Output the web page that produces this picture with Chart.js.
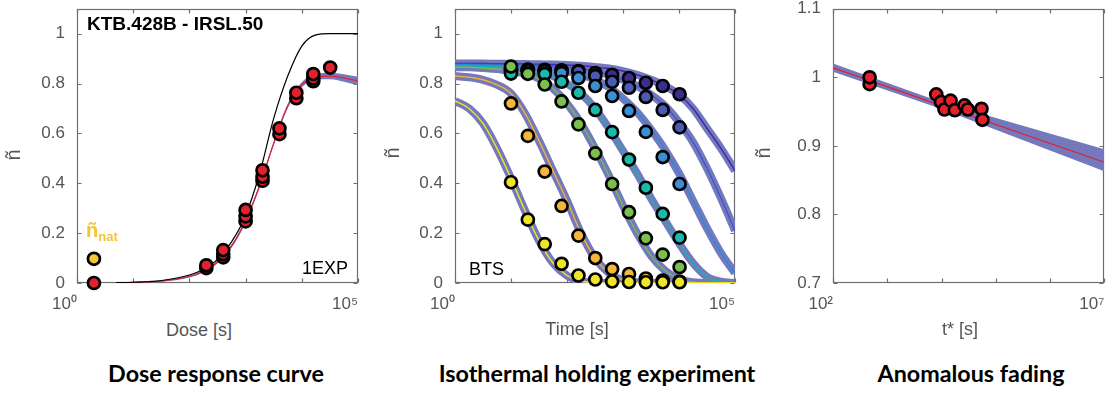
<!DOCTYPE html>
<html><head><meta charset="utf-8">
<script src="https://cdn.jsdelivr.net/npm/chart.js@4.4.1/dist/chart.umd.min.js"></script>
<style>
html,body{margin:0;padding:0;background:#fff}
body{width:1113px;height:396px;overflow:hidden;position:relative;font-family:"Liberation Sans",Arial,sans-serif}
canvas{position:absolute;top:0}
.t{position:absolute;white-space:nowrap;line-height:1}
.ax{color:#555;font-size:18px}
.yl{color:#555;font-size:20px;transform:translate(-50%,-50%) rotate(-90deg)}
.ttl{font-family:Lato,"Open Sans",sans-serif;font-weight:700;font-size:23.3px;color:#000;transform:translateX(-50%)}
</style></head><body>
<canvas id="c1" width="370" height="320" style="left:0"></canvas>
<canvas id="c2" width="380" height="320" style="left:370px"></canvas>
<canvas id="c3" width="363" height="320" style="left:750px"></canvas>

<div class="t" style="left:87px;top:14px;font-weight:700;font-size:19px">KTB.428B - IRSL.50</div>
<div class="t" style="left:302px;top:259px;font-size:18px">1EXP</div>
<div class="t" style="left:86px;top:220px;color:#f5c531;font-weight:700;font-size:20px">ñ<span style="font-size:13px;position:relative;top:4px">nat</span></div>
<div class="t" style="left:469px;top:260px;font-size:18px">BTS</div>

<div class="t yl" style="left:13px;top:155px">ñ</div>
<div class="t yl" style="left:392px;top:153px">ñ</div>
<div class="t yl" style="left:763px;top:153px">ñ</div>

<div class="t ax" style="left:199px;top:321px;transform:translateX(-50%)">Dose [s]</div>
<div class="t ax" style="left:577px;top:320px;transform:translateX(-50%)">Time [s]</div>
<div class="t ax" style="left:960px;top:320px;transform:translateX(-50%)">t* [s]</div>

<div class="t ttl" style="left:216px;top:362px">Dose response curve</div>
<div class="t ttl" style="left:597px;top:362px">Isothermal holding experiment</div>
<div class="t ttl" style="left:971px;top:362px">Anomalous fading</div>

<script>
// ---------- Panel 1: dose response ----------
const doseCurveX = [5,10,32,100,178,316,562,1000,1778,3162,5623,10000,17783,31623,56234,100000];
const curve1EXP  = [0.0015,0.003,0.01,0.032,0.055,0.095,0.165,0.27,0.44,0.66,0.83,0.95,0.995,1,1,1];
const curveFit   = [0.0013,0.0025,0.008,0.026,0.047,0.084,0.148,0.25,0.39,0.56,0.71,0.795,0.826,0.83,0.822,0.81];
const fitUpper   = [0.0023,0.0045,0.011,0.030,0.052,0.090,0.155,0.258,0.398,0.568,0.719,0.805,0.837,0.843,0.837,0.827];
const fitLower   = [0.0003,0.0005,0.005,0.022,0.042,0.078,0.141,0.242,0.382,0.552,0.701,0.785,0.815,0.817,0.807,0.793];
const doseX = [2,200,200,400,400,400,1000,1000,1000,2000,2000,2000,4000,4000,8000,8000,16000,16000,16000,32000];
const doseN = [0,0.06,0.071,0.103,0.116,0.132,0.247,0.267,0.293,0.41,0.426,0.452,0.597,0.62,0.741,0.763,0.809,0.82,0.838,0.864];
const natX = [2];
const natN = [0.097];
const doseTicks = [1,10,100,1000,10000,100000];
const doseTickLabels = ['10\u2070','','','','','10\u2075'];
const nTicks = [0,0.2,0.4,0.6,0.8,1];
const nTickLabels = ['0','0.2','0.4','0.6','0.8','1'];

// ---------- Panel 2: isothermal holding ----------
const holdT = [10,20,40,80,160,320,640,1280,2560,5120,10240];
const holdPurple    = [0.856,0.856,0.855,0.853,0.85,0.842,0.835,0.822,0.803,0.79,0.757];
const holdMidBlue   = [0.855,0.855,0.853,0.851,0.848,0.83,0.807,0.783,0.746,0.694,0.624];
const holdLightBlue = [0.852,0.852,0.85,0.842,0.822,0.79,0.75,0.69,0.606,0.505,0.397];
const holdTeal      = [0.84,0.85,0.838,0.807,0.763,0.694,0.605,0.495,0.382,0.277,0.182];
const holdGreen     = [0.868,0.839,0.796,0.728,0.636,0.52,0.397,0.284,0.179,0.114,0.064];
const holdOrange    = [0.72,0.59,0.447,0.309,0.19,0.10,0.056,0.036,0.018,0.01,0.006];
const holdYellow    = [0.404,0.254,0.156,0.077,0.03,0.014,0.006,0.004,0.003,0.003,0.003];
const holdCurveT = [1,1.78,3.16,5.62,10,17.8,31.6,56.2,100,178,316,562,1000,1780,3160,5620,10000,17800,31600,56200,100000];
const fitPurple    = [0.88,0.88,0.88,0.879,0.879,0.878,0.877,0.876,0.874,0.871,0.866,0.86,0.85,0.835,0.815,0.79,0.755,0.70,0.62,0.54,0.45];
const fitMidBlue   = [0.878,0.878,0.877,0.877,0.876,0.875,0.873,0.87,0.866,0.86,0.85,0.835,0.815,0.79,0.755,0.71,0.645,0.565,0.46,0.34,0.21];
const fitLightBlue = [0.875,0.875,0.874,0.873,0.872,0.87,0.866,0.86,0.85,0.835,0.815,0.785,0.74,0.685,0.615,0.535,0.44,0.33,0.22,0.12,0.04];
const fitTeal      = [0.87,0.87,0.868,0.866,0.862,0.856,0.845,0.83,0.80,0.76,0.70,0.62,0.53,0.44,0.34,0.25,0.16,0.08,0.025,0.005,0];
const fitGreen     = [0.865,0.865,0.862,0.858,0.85,0.84,0.82,0.78,0.72,0.64,0.54,0.43,0.31,0.20,0.11,0.05,0.015,0.003,0,0,0];
const fitOrange    = [0.83,0.825,0.815,0.795,0.76,0.68,0.57,0.45,0.33,0.20,0.10,0.04,0.012,0.003,0,0,0,0,0,0,0];
const fitYellow    = [0.73,0.70,0.64,0.54,0.42,0.29,0.17,0.08,0.03,0.008,0.001,0,0,0,0,0,0,0,0,0,0];
const timeTicks = [1,10,100,1000,10000,100000];
const timeTickLabels = ['10\u2070','','','','','10\u2075'];

// ---------- Panel 3: anomalous fading ----------
const fadeX = [473,473,8000,9750,11350,14700,17600,26600,30500,54500,56800];
const fadeN = [0.99,1.0,0.975,0.964,0.953,0.966,0.952,0.959,0.953,0.954,0.938];
const fadeLineX = [100,10000,10000000];
const fadeFit   = [1.0138,0.9586,0.876];
const fadeUpper = [1.020,0.9636,0.895];
const fadeLower = [1.008,0.9536,0.863];
const fadeTicks = [100,1000,10000,100000,1000000,10000000];
const fadeTickLabels = ['10\u00b2','','','','','10\u2077'];
const fadeNTicks = [0.7,0.8,0.9,1,1.1];
const fadeNTickLabels = ['0.7','0.8','0.9','1','1.1'];

// ---------- styling ----------
const FONT = '"Liberation Sans", Arial, sans-serif';
const AXIS = '#6e6e6e';
const BAND = 'rgb(116,121,190)';
const RED = '#e3212b';

const xy = (xs, ys) => xs.map((x, i) => ({x, y: ys[i]}));

const boxPlugin = {
  id: 'mbox',
  beforeDatasetsDraw(chart) {
    const {ctx, chartArea: a, scales} = chart;
    const x = scales.x, y = scales.y;
    ctx.save();
    ctx.strokeStyle = AXIS; ctx.lineWidth = 1.2;
    const L = Math.round(a.left) + 0.5, R = Math.round(a.right) - 0.5;
    const T = Math.round(a.top) + 0.5, B = Math.round(a.bottom) - 0.5;
    ctx.strokeRect(L, T, R - L, B - T);
    const tl = 4;
    ctx.beginPath();
    x.ticks.forEach(t => { const p = Math.round(x.getPixelForValue(t.value)) + 0.5;
      ctx.moveTo(p, B); ctx.lineTo(p, B - tl); ctx.moveTo(p, T); ctx.lineTo(p, T + tl); });
    y.ticks.forEach(t => { const p = Math.round(y.getPixelForValue(t.value)) + 0.5;
      ctx.moveTo(L, p); ctx.lineTo(L + tl, p); ctx.moveTo(R, p); ctx.lineTo(R - tl, p); });
    ctx.stroke();
    ctx.restore();
  }
};

function options(c) {
  return {
    responsive: false, animation: false, events: [],
    layout: {padding: {top: 3, right: c.padR, left: 0, bottom: 0}},
    plugins: {legend: {display: false}, tooltip: {enabled: false}},
    scales: {
      x: {
        type: 'logarithmic', min: c.xTicks[0], max: c.xTicks[c.xTicks.length - 1],
        afterBuildTicks: s => { s.ticks = c.xTicks.map(v => ({value: v})); },
        afterFit: s => { s.height = 37; s.paddingLeft = 0; s.paddingRight = 0; },
        grid: {display: false, drawTicks: false}, border: {display: false},
        ticks: {autoSkip: false, maxRotation: 0, minRotation: 0, align: 'end', padding: 11,
          color: '#555', font: {family: FONT, size: 17},
          callback: (v, i) => c.xLabels[i]}
      },
      y: {
        type: 'linear', min: c.yMin, max: c.yMax,
        afterBuildTicks: s => { s.ticks = c.yTicks.map(v => ({value: v})); },
        afterFit: s => { s.width = c.yW; s.paddingTop = 0; s.paddingBottom = 0; },
        grid: {display: false, drawTicks: false}, border: {display: false},
        ticks: {autoSkip: false, padding: 12, color: '#555', font: {family: FONT, size: 17},
          callback: (v, i) => c.yLabels[i]}
      }
    }
  };
}

const pts = (data, color, order) => ({data, showLine: false, pointRadius: 6, pointBorderWidth: 2.7,
  pointBackgroundColor: color, pointBorderColor: '#000', clip: false, order});
const curve = (data, color, width, order, extra) => Object.assign({data, borderColor: color, borderWidth: width,
  pointRadius: 0, cubicInterpolationMode: 'monotone', fill: false, clip: 0, order}, extra || {});

// Panel 1
new Chart(document.getElementById('c1'), {
  type: 'line',
  data: {datasets: [
    pts(xy(natX, natN), '#f5c636', 0),
    pts(xy(doseX, doseN), RED, 1),
    curve(xy(doseCurveX, curve1EXP), '#000', 1.2, 2),
    curve(xy(doseCurveX, curveFit), RED, 1.2, 3),
    curve(xy(doseCurveX, fitUpper), 'rgba(0,0,0,0)', 0, 4, {fill: '+1', backgroundColor: BAND}),
    curve(xy(doseCurveX, fitLower), 'rgba(0,0,0,0)', 0, 5)
  ]},
  options: options({padR: 12, yW: 77, xTicks: doseTicks, xLabels: doseTickLabels,
    yMin: 0, yMax: 1.1, yTicks: nTicks, yLabels: nTickLabels}),
  plugins: [boxPlugin]
});

// Panel 2
const holdColors = {purple: '#3d2d8e', mid: '#4a5bb1', light: '#3b8fd4', teal: '#1bb9aa', green: '#7bbf4f', orange: '#f6b53b', yellow: '#eee52a'};
const lineColors = {purple: '#3e26a8', mid: '#3f57c8', light: '#2d8ad8', teal: '#14b5a8', green: '#6fbe55', orange: '#f3b330', yellow: '#f2e61c'};
const holdSets = [
  ['yellow', holdYellow, fitYellow], ['orange', holdOrange, fitOrange], ['green', holdGreen, fitGreen],
  ['teal', holdTeal, fitTeal], ['light', holdLightBlue, fitLightBlue], ['mid', holdMidBlue, fitMidBlue],
  ['purple', holdPurple, fitPurple]
];
const ds2 = [];
holdSets.forEach(([k, p, f], i) => {
  ds2.push(pts(xy(holdT, p), holdColors[k], i));
  ds2.push(curve(xy(holdCurveT, f), lineColors[k], 1.4, 10 + i));
  ds2.push(curve(xy(holdCurveT, f), BAND, 8, 20 + i, {borderCapStyle: 'butt'}));
});
new Chart(document.getElementById('c2'), {
  type: 'line',
  data: {datasets: ds2},
  options: options({padR: 15, yW: 85, xTicks: timeTicks, xLabels: timeTickLabels,
    yMin: 0, yMax: 1.1, yTicks: nTicks, yLabels: nTickLabels}),
  plugins: [boxPlugin]
});

// Panel 3
new Chart(document.getElementById('c3'), {
  type: 'line',
  data: {datasets: [
    pts(xy(fadeX, fadeN), RED, 0),
    curve(xy(fadeLineX, fadeFit), RED, 1.2, 1, {cubicInterpolationMode: 'default', tension: 0}),
    curve(xy(fadeLineX, fadeUpper), 'rgba(0,0,0,0)', 0, 2, {fill: '+1', backgroundColor: BAND, cubicInterpolationMode: 'default', tension: 0}),
    curve(xy(fadeLineX, fadeLower), 'rgba(0,0,0,0)', 0, 3, {cubicInterpolationMode: 'default', tension: 0})
  ]},
  options: options({padR: 1, yW: 83, xTicks: fadeTicks, xLabels: fadeTickLabels,
    yMin: 0.7, yMax: 1.1, yTicks: fadeNTicks, yLabels: fadeNTickLabels}),
  plugins: [boxPlugin]
});
</script>
</body></html>
